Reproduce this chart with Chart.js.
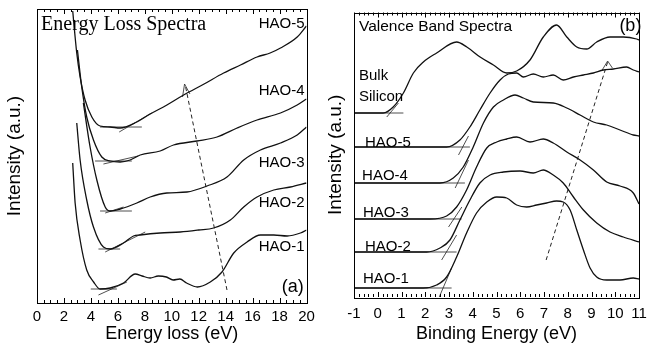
<!DOCTYPE html>
<html>
<head>
<meta charset="utf-8">
<script src="https://cdn.jsdelivr.net/npm/chart.js@4.4.1/dist/chart.umd.min.js"></script>
<style>
  body { margin: 0; background: #fff; }
  #wrap { position: relative; width: 647px; height: 345px; overflow: hidden; }
  canvas { position: absolute; top: 0; }
  #lossChart { left: 0; }
  #vbChart { left: 310px; }
</style>
</head>
<body>
<div id="wrap">
  <canvas id="lossChart" width="330" height="345"></canvas>
  <canvas id="vbChart" width="337" height="345"></canvas>
</div>
<script>
// panel (a): energy loss spectra, intensity in arbitrary units (curves offset)
const lossE1 = [2.65, 2.83, 3.2, 3.69, 4.2, 4.68, 5.43, 6.42, 7.29, 7.8, 8.4, 9.0, 9.6, 10.1, 10.6, 11.1, 11.9, 12.86, 13.73, 14.6, 15.59, 16.58, 17.57, 18.56, 19.55, 20];
const lossI1 = [140, 100, 63, 33, 21, 14, 15, 20, 29, 27, 25, 27, 26, 23, 24, 20, 16, 21, 31, 50, 61, 68, 68, 67, 70, 73];
const lossE2 = [2.95, 3.2, 3.69, 4.19, 4.93, 5.43, 6.42, 7.16, 7.66, 9.14, 10.63, 12.0, 13.11, 14.35, 15.34, 16.33, 17.57, 18.81, 20];
const lossI2 = [180, 143, 103, 76, 56, 54, 60, 67, 68, 70, 71, 73, 75, 83, 96, 106, 113, 116, 120];
const lossE3 = [3.44, 3.94, 4.44, 5.06, 5.43, 6.17, 7.41, 8.4, 9.64, 11.13, 12.62, 14.1, 15.34, 16.58, 18.07, 19.31, 20];
const lossI3 = [200, 156, 123, 96, 92, 94, 100, 106, 110, 111, 117, 126, 143, 153, 160, 168, 176];
const lossE4 = [3.0, 3.32, 3.69, 4.19, 4.81, 5.43, 6.17, 6.91, 7.66, 9.14, 10.13, 11.87, 13.36, 14.85, 16.33, 18.07, 19.31, 20];
const lossI4 = [253, 216, 186, 163, 146, 142, 141, 143, 148, 152, 158, 162, 166, 175, 183, 190, 198, 204];
const lossE5 = [2.65, 2.95, 3.2, 3.57, 4.07, 4.68, 5.43, 6.17, 7.41, 8.4, 9.64, 10.88, 12.4, 13.85, 15.1, 16.33, 17.3, 18.07, 19.31, 20];
const lossI5 = [292, 250, 226, 203, 186, 177, 176, 175, 181, 189, 198, 208, 219, 230, 238, 246, 250, 255, 266, 277];

// band gap construction lines, HAO-1 .. HAO-5
const lossFlatFrom = [3.99, 4.56, 4.68, 4.31, 4.68];
const lossFlatTo = [5.93, 6.17, 7.04, 7.04, 7.78];
const lossFlatI = [14, 54, 92, 142, 176];
const lossSlopeE = [[4.56, 6.67], [5.06, 8.03], [5.06, 6.42], [4.93, 7.5], [6.1, 8.5]];
const lossSlopeI = [[8, 21], [51, 71], [90, 96], [139, 147], [171, 190]];
const lossShiftE = [14.1, 11.0];
const lossShiftI = [13, 218];
const lossArrowE = [10.8, 10.95, 11.35];
const lossArrowI = [206, 219, 209];

// panel (b): valence band spectra
const vbE0 = [-1, 0.23, 0.65, 1.08, 1.5, 1.92, 2.48, 3.32, 3.75, 4.31, 4.87, 5.43, 5.85, 6.41, 6.97, 7.53, 7.96, 8.38, 8.8, 9.22, 9.78, 10.34, 10.9, 11];
const vbI0 = [184, 184, 190, 204, 224, 235, 244, 255, 250, 240, 232, 224, 226, 237, 260, 272, 260, 250, 248, 255, 260, 260, 258, 257];
const vbE5 = [-1, 2.9, 3.46, 3.88, 4.3, 4.73, 5.15, 5.5, 5.85, 6.13, 6.55, 6.97, 7.39, 7.81, 8.24, 8.66, 9.08, 9.5, 9.92, 10.48, 10.76, 11];
const vbI5 = [150, 150, 157, 170, 187, 204, 217, 223, 224, 220, 223, 220, 222, 217, 220, 222, 224, 227, 228, 230, 227, 225];
const vbE4 = [-1, 2.62, 3.18, 3.6, 4.02, 4.45, 4.87, 5.29, 5.78, 6.13, 6.55, 7.39, 7.96, 8.52, 9.08, 9.64, 10.2, 10.76, 11];
const vbI4 = [114, 114, 119, 130, 150, 174, 190, 197, 202, 199, 195, 194, 189, 182, 175, 172, 167, 162, 161];
const vbE3 = [-1, 2.2, 2.9, 3.32, 3.74, 4.16, 4.59, 5.01, 5.43, 5.85, 6.41, 6.97, 7.39, 7.96, 8.52, 9.08, 9.64, 10.2, 10.76, 11];
const vbI3 = [78, 78, 81, 90, 107, 130, 149, 155, 158, 160, 155, 158, 154, 145, 137, 127, 115, 111, 104, 93];
const vbE2 = [-1, 2.06, 2.62, 3.04, 3.46, 3.88, 4.3, 4.73, 5.29, 5.99, 6.55, 6.97, 7.39, 7.81, 8.24, 8.66, 9.22, 9.78, 10.34, 11];
const vbI2 = [45, 45, 49, 57, 77, 97, 114, 122, 125, 126, 124, 127, 122, 114, 100, 87, 74, 65, 60, 55];
const vbE1 = [-1, 1.92, 2.48, 2.9, 3.32, 3.74, 4.16, 4.59, 5.01, 5.43, 5.85, 6.27, 6.69, 7.11, 7.53, 7.81, 8.1, 8.38, 8.66, 8.94, 9.22, 9.64, 10.2, 10.76, 11];
const vbI1 = [9, 9, 12, 20, 40, 64, 84, 95, 100, 99, 92, 90, 92, 94, 96, 95, 87, 67, 47, 29, 20, 17, 17, 19, 18];

// valence band edge lines, HAO-1 .. HAO-5 then bulk Si
const vbFlatTo = [3.11, 3.32, 3.53, 3.67, 3.88, 1.08];
const vbFlatI = [9, 45, 78, 114, 150, 184];
const vbSlopeE = [[2.59, 3.11], [2.69, 3.32], [2.98, 3.54], [3.26, 3.82], [3.40, 3.82], [0.38, 0.87]];
const vbSlopeI = [[0, 29], [37, 62], [70, 90], [109, 137], [142, 161], [180, 194]];
const vbShiftE = [7.09, 9.68];
const vbShiftI = [37, 235];
const vbArrowE = [9.45, 9.68, 9.88];
const vbArrowI = [227, 236, 229];

const sans = '"Liberation Sans", Arial, sans-serif';

function xy(xs, ys) {
    return xs.map((v, i) => ({x: v, y: ys[i]}));
}

function curve(xs, ys) {
    return {data: xy(xs, ys), showLine: true, borderColor: '#111', borderWidth: 1.3,
        pointRadius: 0, cubicInterpolationMode: 'monotone'};
}

function guide(xs, ys, dash) {
    return {data: xy(xs, ys), showLine: true, borderColor: '#222', borderWidth: dash ? 1 : 0.8,
        borderDash: dash ? [4, 3] : [], pointRadius: 0, tension: 0};
}

// frame round the plot area plus inward tick marks top and bottom
function framePlugin(minor, major) {
    return {
        id: 'frame',
        afterDatasetsDraw(chart) {
            const {ctx, chartArea: a, scales: {x}} = chart;
            ctx.save();
            ctx.strokeStyle = '#000';
            ctx.lineWidth = 1;
            ctx.strokeRect(Math.round(a.left) + 0.5, Math.round(a.top) + 0.5,
                Math.round(a.right - a.left), Math.round(a.bottom - a.top));
            ctx.beginPath();
            const n = Math.round((x.max - x.min) / minor);
            for (let i = 0; i <= n; i++) {
                const v = x.min + i * minor;
                const px = Math.round(x.getPixelForValue(v)) + 0.5;
                const big = Math.abs(v / major - Math.round(v / major)) < 1e-6;
                const len = big ? 5 : 3;
                ctx.moveTo(px, a.bottom); ctx.lineTo(px, a.bottom - len);
                ctx.moveTo(px, a.top); ctx.lineTo(px, a.top + len);
            }
            ctx.stroke();
            ctx.restore();
        }
    };
}

// text labels placed in data units
function notesPlugin(notes) {
    return {
        id: 'notes',
        afterDraw(chart) {
            const {ctx, scales: {x, y}} = chart;
            ctx.save();
            ctx.fillStyle = '#000';
            ctx.textBaseline = 'middle';
            notes.forEach(n => {
                ctx.font = n.font;
                ctx.textAlign = n.align;
                ctx.fillText(n.text, x.getPixelForValue(n.x), y.getPixelForValue(n.y));
            });
            ctx.restore();
        }
    };
}

function makeChart(id, datasets, o) {
    return new Chart(document.getElementById(id), {
        type: 'scatter',
        data: {datasets: datasets},
        options: {
            responsive: false,
            animation: false,
            devicePixelRatio: 1,
            layout: {padding: {left: 0, right: o.padRight, top: o.padTop, bottom: 0}},
            plugins: {legend: {display: false}, tooltip: {enabled: false}},
            scales: {
                x: {
                    type: 'linear', min: o.xMin, max: o.xMax,
                    grid: {display: false, drawTicks: false},
                    border: {display: false},
                    ticks: {stepSize: o.step, padding: o.tickPad, color: '#000', font: {family: sans, size: 15}},
                    title: {display: true, text: o.xTitle, color: '#000', font: {family: sans, size: 18},
                        padding: {top: 0, bottom: o.xTitlePad}},
                    afterFit: s => { s.height = o.xHeight; s.paddingLeft = 0; s.paddingRight = 0; }
                },
                y: {
                    min: 0, max: o.yMax,
                    grid: {display: false, drawTicks: false},
                    border: {display: false},
                    ticks: {display: false},
                    title: {display: true, text: 'Intensity (a.u.)', color: '#000', font: {family: sans, size: 19},
                        padding: {top: o.yTitlePad, bottom: 0}},
                    afterFit: s => { s.width = o.yWidth; s.paddingTop = 0; s.paddingBottom = 0; }
                }
            }
        },
        plugins: [framePlugin(o.minor, o.step), notesPlugin(o.notes)]
    });
}

// panel (a)
const lossSets = [
    curve(lossE1, lossI1), curve(lossE2, lossI2), curve(lossE3, lossI3),
    curve(lossE4, lossI4), curve(lossE5, lossI5)
];
lossFlatI.forEach((v, i) => {
    lossSets.push(guide([lossFlatFrom[i], lossFlatTo[i]], [v, v]));
    lossSets.push(guide(lossSlopeE[i], lossSlopeI[i]));
});
lossSets.push(guide(lossShiftE, lossShiftI, true));
lossSets.push(guide(lossArrowE, lossArrowI));

makeChart('lossChart', lossSets, {
    xMin: 0, xMax: 20, step: 2, minor: 0.5, yMax: 294,
    padRight: 23.5, padTop: 9, xHeight: 42, yWidth: 37,
    tickPad: 5, xTitlePad: 0, yTitlePad: 3.6,
    xTitle: 'Energy loss (eV)',
    notes: [
        {text: 'Energy Loss Spectra', x: 0.3, y: 278, align: 'left', font: '20px "Liberation Serif", "Times New Roman", serif'},
        {text: 'HAO-5', x: 19.85, y: 279, align: 'right', font: '15px ' + sans},
        {text: 'HAO-4', x: 19.85, y: 212, align: 'right', font: '15px ' + sans},
        {text: 'HAO-3', x: 19.85, y: 140, align: 'right', font: '15px ' + sans},
        {text: 'HAO-2', x: 19.85, y: 100, align: 'right', font: '15px ' + sans},
        {text: 'HAO-1', x: 19.85, y: 56, align: 'right', font: '15px ' + sans},
        {text: '(a)', x: 19.8, y: 16, align: 'right', font: '18px ' + sans}
    ]
});

// panel (b)
const vbSets = [
    curve(vbE0, vbI0), curve(vbE5, vbI5), curve(vbE4, vbI4),
    curve(vbE3, vbI3), curve(vbE2, vbI2), curve(vbE1, vbI1)
];
vbFlatI.forEach((v, i) => {
    vbSets.push(guide([-1, vbFlatTo[i]], [v, v]));
    vbSets.push(guide(vbSlopeE[i], vbSlopeI[i]));
});
vbSets.push(guide(vbShiftE, vbShiftI, true));
vbSets.push(guide(vbArrowE, vbArrowI));

makeChart('vbChart', vbSets, {
    xMin: -1, xMax: 11, step: 1, minor: 0.2, yMax: 284.5,
    padRight: 8, padTop: 12.5, xHeight: 48, yWidth: 44,
    tickPad: 8, xTitlePad: 0, yTitlePad: 14.6,
    xTitle: 'Binding Energy (eV)',
    notes: [
        {text: 'Valence Band Spectra', x: -0.79, y: 270, align: 'left', font: '15.5px ' + sans},
        {text: '(b)', x: 11.1, y: 271, align: 'right', font: '18px ' + sans},
        {text: 'Bulk', x: -0.79, y: 221, align: 'left', font: '15px ' + sans},
        {text: 'Silicon', x: -0.79, y: 200, align: 'left', font: '15px ' + sans},
        {text: 'HAO-5', x: -0.54, y: 154, align: 'left', font: '15px ' + sans},
        {text: 'HAO-4', x: -0.66, y: 121, align: 'left', font: '15px ' + sans},
        {text: 'HAO-3', x: -0.62, y: 84, align: 'left', font: '15px ' + sans},
        {text: 'HAO-2', x: -0.54, y: 50, align: 'left', font: '15px ' + sans},
        {text: 'HAO-1', x: -0.62, y: 18, align: 'left', font: '15px ' + sans}
    ]
});
</script>
</body>
</html>
